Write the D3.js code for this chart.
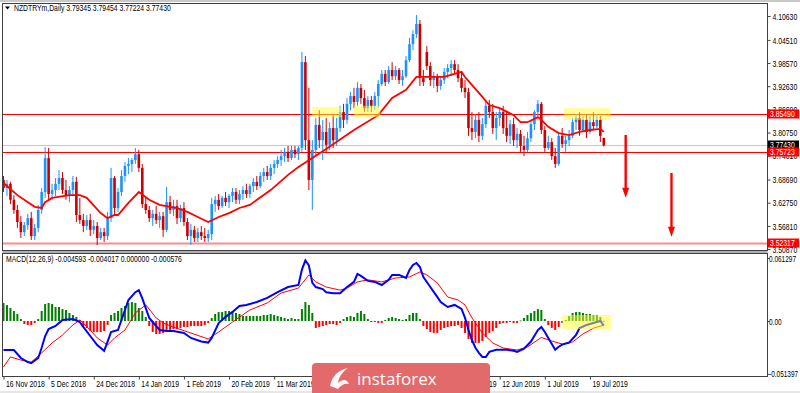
<!DOCTYPE html>
<html>
<head>
<meta charset="utf-8">
<script src="https://cdn.jsdelivr.net/npm/d3@7"></script>
<style>
  body { margin: 0; background: #fff; }
  svg { display: block; font-family: "Liberation Sans", Arial, sans-serif; }
</style>
</head>
<body>
<div id="chart"></div>
<script>
// ---- data (NZDTRYm, Daily) ----
const opens = [
  3.686,3.665,3.676,3.635,3.609,3.578,3.552,3.570,3.588,3.542,
  3.563,3.609,3.655,3.742,3.650,3.660,3.676,3.691,3.660,3.645,
  3.660,3.681,3.596,3.583,3.568,3.583,3.558,3.568,3.537,3.552,
  3.542,3.588,3.691,3.614,3.655,3.696,3.722,3.727,3.737,3.752,
  3.717,3.624,3.609,3.588,3.599,3.583,3.593,3.558,3.629,3.609,
  3.619,3.588,3.614,3.578,3.542,3.558,3.537,3.552,3.542,3.537,
  3.547,3.624,3.635,3.619,3.640,3.629,3.645,3.655,3.635,3.650,
  3.660,3.650,3.670,3.681,3.670,3.696,3.706,3.696,3.717,3.727,
  3.737,3.747,3.758,3.742,3.763,3.752,3.768,3.988,3.788,3.686,
  3.763,3.827,3.788,3.809,3.776,3.819,3.788,3.819,3.860,3.840,
  3.881,3.901,3.886,3.922,3.896,3.870,3.891,3.876,3.901,3.932,
  3.958,3.937,3.968,3.952,3.968,3.942,3.952,3.993,4.034,4.060,
  4.086,3.947,4.014,3.978,3.942,3.952,3.927,3.942,3.963,3.973,
  3.983,3.968,3.947,3.922,3.911,3.819,3.809,3.840,3.799,3.829,
  3.876,3.860,3.819,3.845,3.860,3.819,3.799,3.829,3.788,3.804,
  3.773,3.763,3.793,3.829,3.860,3.881,3.814,3.768,3.783,3.747,
  3.727,3.799,3.778,3.788,3.799,3.834,3.845,3.814,3.840,3.809,
  3.834,3.824,3.840,3.79345];
const highs = [
  3.696,3.686,3.681,3.647,3.622,3.593,3.578,3.599,3.604,3.573,
  3.622,3.665,3.770,3.768,3.676,3.691,3.711,3.706,3.686,3.670,
  3.696,3.694,3.640,3.599,3.596,3.599,3.583,3.578,3.563,3.563,
  3.604,3.717,3.696,3.665,3.711,3.732,3.742,3.742,3.768,3.763,
  3.727,3.640,3.619,3.609,3.619,3.604,3.604,3.668,3.645,3.635,
  3.635,3.622,3.629,3.588,3.573,3.568,3.563,3.568,3.563,3.558,
  3.640,3.645,3.650,3.645,3.655,3.650,3.665,3.665,3.660,3.670,
  3.676,3.676,3.691,3.696,3.706,3.717,3.722,3.727,3.737,3.747,
  3.763,3.768,3.773,3.773,3.773,3.773,4.014,4.004,3.922,3.788,
  3.845,3.865,3.840,3.845,3.834,3.852,3.845,3.876,3.881,3.896,
  3.911,3.922,3.937,3.932,3.917,3.901,3.901,3.911,3.942,3.968,
  3.968,3.978,3.988,3.978,3.973,3.968,4.004,4.050,4.070,4.109,
  4.096,3.968,4.029,3.988,3.963,3.958,3.952,3.973,3.983,3.993,
  3.993,3.983,3.963,3.942,3.922,3.860,3.855,3.860,3.845,3.886,
  3.891,3.881,3.860,3.870,3.876,3.860,3.840,3.845,3.819,3.814,
  3.799,3.809,3.840,3.865,3.891,3.886,3.824,3.799,3.793,3.768,
  3.809,3.819,3.799,3.814,3.845,3.855,3.860,3.850,3.855,3.850,
  3.860,3.855,3.850,3.79454];
const lows = [
  3.655,3.645,3.624,3.599,3.563,3.537,3.542,3.558,3.532,3.532,
  3.552,3.599,3.640,3.635,3.635,3.645,3.660,3.650,3.635,3.629,
  3.645,3.578,3.573,3.552,3.558,3.542,3.547,3.519,3.532,3.527,
  3.532,3.578,3.599,3.604,3.645,3.681,3.701,3.706,3.727,3.706,
  3.614,3.599,3.578,3.568,3.573,3.563,3.540,3.552,3.599,3.593,
  3.573,3.578,3.568,3.532,3.519,3.527,3.527,3.532,3.527,3.527,
  3.532,3.604,3.609,3.614,3.619,3.614,3.629,3.624,3.624,3.635,
  3.640,3.640,3.655,3.660,3.665,3.681,3.686,3.686,3.701,3.717,
  3.722,3.732,3.732,3.737,3.742,3.737,3.758,3.763,3.660,3.609,
  3.747,3.768,3.737,3.758,3.763,3.768,3.773,3.809,3.819,3.829,
  3.865,3.870,3.876,3.881,3.860,3.860,3.860,3.865,3.870,3.927,
  3.927,3.932,3.942,3.942,3.932,3.927,3.947,3.988,4.019,4.050,
  3.927,3.927,3.968,3.927,3.922,3.911,3.917,3.932,3.947,3.952,
  3.958,3.937,3.911,3.896,3.799,3.788,3.793,3.783,3.788,3.819,
  3.845,3.804,3.788,3.824,3.804,3.783,3.778,3.773,3.768,3.758,
  3.747,3.758,3.783,3.814,3.850,3.804,3.758,3.763,3.737,3.717,
  3.722,3.768,3.758,3.773,3.793,3.814,3.799,3.809,3.793,3.804,
  3.814,3.819,3.783,3.77224];
const closes = [
  3.665,3.676,3.635,3.609,3.578,3.552,3.570,3.588,3.542,3.563,
  3.609,3.655,3.742,3.650,3.660,3.676,3.691,3.660,3.645,3.660,
  3.681,3.596,3.583,3.568,3.583,3.558,3.568,3.537,3.552,3.542,
  3.588,3.691,3.614,3.655,3.696,3.722,3.727,3.737,3.752,3.717,
  3.624,3.609,3.588,3.599,3.583,3.593,3.558,3.629,3.609,3.619,
  3.588,3.614,3.578,3.542,3.558,3.537,3.552,3.542,3.537,3.547,
  3.624,3.635,3.619,3.640,3.629,3.645,3.655,3.635,3.650,3.660,
  3.650,3.670,3.681,3.670,3.696,3.706,3.696,3.717,3.727,3.737,
  3.747,3.758,3.742,3.763,3.752,3.768,3.988,3.788,3.686,3.763,
  3.827,3.788,3.809,3.776,3.819,3.788,3.819,3.860,3.840,3.881,
  3.901,3.886,3.922,3.896,3.870,3.891,3.876,3.901,3.932,3.958,
  3.937,3.968,3.952,3.968,3.942,3.952,3.993,4.034,4.060,4.086,
  3.947,3.937,3.978,3.942,3.952,3.927,3.942,3.963,3.973,3.983,
  3.968,3.947,3.922,3.911,3.819,3.809,3.840,3.799,3.829,3.876,
  3.860,3.819,3.845,3.860,3.819,3.799,3.829,3.788,3.804,3.773,
  3.763,3.793,3.829,3.860,3.881,3.814,3.768,3.783,3.747,3.727,
  3.799,3.778,3.788,3.799,3.834,3.845,3.814,3.840,3.809,3.834,
  3.824,3.840,3.799,3.77430];

// moving average on the price panel: [bar, price]
const maPts = [
  [0,3.678],[4,3.647],[9,3.617],[11,3.614],[12,3.629],[14,3.640],[19,3.647],[22,3.647],
  [24,3.640],[28,3.601],[30,3.588],[32,3.596],[33,3.596],[36,3.627],[39,3.655],[42,3.635],
  [45,3.622],[48,3.617],[50,3.614],[53,3.604],[56,3.591],[59,3.578],[62,3.591],[65,3.601],
  [68,3.614],[71,3.622],[77,3.660],[82,3.699],[85,3.719],[93,3.765],[101,3.814],[108,3.852],
  [112,3.896],[116,3.917],[119,3.950],[127,3.950],[132,3.963],[133,3.950],[137,3.909],
  [140,3.878],[143,3.870],[147,3.852],[149,3.834],[151,3.834],[154,3.847],[155,3.840],
  [157,3.822],[160,3.806],[163,3.801],[166,3.809],[169,3.814],[172,3.817],[173,3.809]];

// MACD(12,26,9): histogram per bar, main and signal lines as [bar, value]
const macdHist = [
  0.0175,0.0155,0.0126,0.0097,0.0068,0.0019,-0.0029,-0.0039,-0.0039,-0.0019,
  0.0019,0.0097,0.0165,0.0175,0.0165,0.0136,0.0136,0.0116,0.0107,0.0078,
  0.0058,0.0039,0.0010,-0.0049,-0.0068,-0.0097,-0.0107,-0.0107,-0.0107,-0.0097,
  -0.0039,0.0058,0.0078,0.0097,0.0126,0.0146,0.0175,0.0184,0.0175,0.0126,
  0.0097,0.0039,-0.0049,-0.0107,-0.0126,-0.0126,-0.0116,-0.0097,-0.0087,-0.0078,
  -0.0078,-0.0068,-0.0058,-0.0058,-0.0049,-0.0049,-0.0049,-0.0049,-0.0039,-0.0019,
  0.0029,0.0068,0.0087,0.0087,0.0097,0.0097,0.0087,0.0078,0.0068,0.0049,
  0.0049,0.0049,0.0049,0.0049,0.0049,0.0058,0.0058,0.0068,0.0058,0.0049,
  0.0039,0.0029,0.0019,0.0029,0.0019,0.0019,0.0116,0.0184,0.0155,0.0078,
  -0.0068,-0.0058,-0.0049,-0.0039,-0.0029,-0.0029,-0.0039,-0.0019,0.0019,0.0039,
  0.0049,0.0039,0.0078,0.0097,0.0068,0.0019,-0.0010,-0.0010,-0.0019,-0.0019,
  0.0010,0.0029,0.0039,0.0029,0.0019,0.0010,0.0019,0.0058,0.0078,0.0078,
  0.0019,-0.0049,-0.0078,-0.0107,-0.0116,-0.0116,-0.0087,-0.0068,-0.0058,-0.0049,
  -0.0049,-0.0039,-0.0068,-0.0116,-0.0175,-0.0213,-0.0213,-0.0213,-0.0194,-0.0155,
  -0.0116,-0.0097,-0.0068,-0.0029,-0.0019,-0.0019,-0.0010,-0.0019,-0.0019,0.0005,
  0.0029,0.0058,0.0078,0.0097,0.0116,0.0107,0.0019,-0.0039,-0.0068,-0.0087,
  -0.0058,-0.0019,0.0010,0.0049,0.0078,0.0087,0.0087,0.0078,0.0068,0.0068,
  0.0058,0.0058,0.0039,-0.000576];
const macdMain = [
  [0,-0.0282],[3,-0.0282],[5,-0.036],[7,-0.040],[8,-0.041],[10,-0.036],[11,-0.026],[12,-0.0146],
  [13,-0.0078],[15,-0.0049],[17,0.001],[20,0.0019],[22,-0.001],[23,-0.0058],[25,-0.0146],
  [27,-0.0234],[29,-0.029],[30,-0.020],[31,-0.0107],[33,-0.0088],[34,0.001],[36,0.0204],
  [38,0.028],[39,0.030],[40,0.022],[42,0.003],[43,-0.001],[45,-0.0088],[47,-0.0097],
  [49,-0.0097],[52,-0.0117],[54,-0.0165],[57,-0.020],[59,-0.021],[60,-0.0165],[62,-0.002],
  [64,0.004],[66,0.0088],[68,0.0146],[70,0.0156],[73,0.0185],[76,0.0224],[79,0.028],
  [82,0.033],[85,0.035],[86,0.050],[87,0.059],[88,0.054],[89,0.037],[90,0.033],[92,0.031],
  [93,0.028],[95,0.027],[97,0.027],[99,0.033],[101,0.038],[102,0.0457],[103,0.0438],
  [105,0.039],[107,0.038],[109,0.035],[111,0.040],[112,0.0448],[114,0.0448],[116,0.0418],
  [117,0.0496],[118,0.0545],[119,0.0564],[120,0.0525],[121,0.0428],[123,0.033],[125,0.0234],
  [126,0.0185],[128,0.0136],[130,0.0156],[132,0.0117],[133,0.003],[134,-0.0088],[135,-0.0185],
  [136,-0.026],[137,-0.031],[138,-0.035],[139,-0.035],[140,-0.030],[142,-0.028],[145,-0.028],
  [147,-0.029],[148,-0.030],[150,-0.027],[152,-0.020],[154,-0.0088],[155,-0.0058],[156,-0.0107],
  [157,-0.0165],[159,-0.028],[160,-0.025],[161,-0.023],[163,-0.021],[165,-0.0136],[166,-0.0068],
  [168,-0.0039],[170,-0.0019],[172,0.000],[173,-0.004593]];
const macdSignal = [
  [0,-0.0447],[2,-0.035],[5,-0.038],[8,-0.040],[11,-0.031],[14,-0.0214],[17,-0.0136],[20,-0.0039],
  [22,0.001],[25,-0.0088],[27,-0.0165],[30,-0.0234],[32,-0.0165],[35,-0.0088],[38,0.0078],
  [41,0.0156],[44,0.003],[46,-0.002],[49,-0.006],[54,-0.0117],[59,-0.0175],[62,-0.0107],
  [66,-0.001],[71,0.0107],[76,0.0175],[80,0.0272],[85,0.032],[88,0.0447],[90,0.038],[93,0.033],
  [97,0.030],[99,0.032],[102,0.038],[105,0.040],[109,0.038],[113,0.0418],[117,0.0428],
  [120,0.0477],[122,0.0448],[125,0.037],[128,0.0233],[131,0.0204],[133,0.0156],[135,0.003],
  [138,-0.0117],[141,-0.0214],[144,-0.0263],[148,-0.0282],[151,-0.0253],[155,-0.016],
  [158,-0.0195],[161,-0.0224],[164,-0.0204],[167,-0.0126],[170,-0.007],[173,-0.004017]];

// axes
const priceTicks = [4.10630,4.04510,3.98570,3.92630,3.86690,3.80750,3.74810,3.68690,3.62750,3.56810,3.50870];
const macdTicks = [0.061297, 0, -0.051397];
const macdTickLabels = ["0.061297", "0.00", "-0.051397"];
const timeTickIdx = [0,13,26,39,52,65,78,91,104,117,130,143,156,169];
// labels under the watermark are not readable in the picture; left blank
const timeLabels = ["16 Nov 2018","5 Dec 2018","24 Dec 2018","14 Jan 2019","1 Feb 2019","20 Feb 2019",
  "11 Mar 2019","","","","24 May 2019","12 Jun 2019","1 Jul 2019","19 Jul 2019"];

// drawn levels and markup
const redLevels = [3.85490, 3.75723];
const supportLevel = 3.52317;
const lastPrice = 3.77430;
const zones = [[89, 97.5, 3.847, 3.873], [101, 108.6, 3.847, 3.876], [161.5, 175, 3.840, 3.870]];
const macdZone = [161, 175.2, -0.0078, 0.0058];
const arrows = [[179.3, 3.801, 3.640], [192.5, 3.704, 3.540]];

// ---- layout ----
const W = 800, H = 393;
const plotL = 2.5, plotR = 767.5;
const mainTop = 3.5, mainBot = 250.5, macdTop = 253.5, macdBot = 376.5;
const upColor = "#1e90ff", downColor = "#cc0000";
const sx = 0.76; // horizontal squeeze of the terminal font

const svg = d3.select("#chart").append("svg")
  .attr("width", W).attr("height", H);

svg.append("rect").attr("width", W).attr("height", H).attr("fill", "#fff");
svg.append("rect").attr("width", W).attr("height", 2).attr("fill", "#c8c8c8");
svg.append("rect").attr("y", 391).attr("width", W).attr("height", 2).attr("fill", "#e6e6e6");

const x = d3.scaleLinear().domain([0, 173]).range([3.5, 3.5 + 173 * 3.47]);
const y = d3.scaleLinear().domain([3.5063, 4.1371]).range([250, 4]);
const ym = d3.scaleLinear().domain([-0.0535, 0.0661]).range([376, 253]);

function label(g, tx, ty, str, opts = {}) {
  return g.append("text")
    .attr("transform", `translate(${tx},${ty}) scale(${opts.sx || sx},1)`)
    .attr("font-size", opts.size || 9)
    .attr("fill", opts.fill || "#000")
    .text(str);
}

// clip regions
const defs = svg.append("defs");
defs.append("clipPath").attr("id", "clipMain").append("rect")
  .attr("x", plotL).attr("y", mainTop).attr("width", plotR - plotL).attr("height", mainBot - mainTop);
defs.append("clipPath").attr("id", "clipMacd").append("rect")
  .attr("x", plotL).attr("y", macdTop).attr("width", plotR - plotL).attr("height", macdBot - macdTop);

// ---- price panel ----
const main = svg.append("g").attr("clip-path", "url(#clipMain)");

main.append("line")
  .attr("x1", plotL).attr("x2", plotR)
  .attr("y1", Math.round(y(lastPrice)) + 0.5).attr("y2", Math.round(y(lastPrice)) + 0.5)
  .attr("stroke", "#c8c8c8").attr("stroke-width", 1);

main.selectAll("line.level").data(redLevels).join("line")
  .attr("class", "level")
  .attr("x1", plotL).attr("x2", plotR)
  .attr("y1", d => Math.round(y(d)) + 0.5).attr("y2", d => Math.round(y(d)) + 0.5)
  .attr("stroke", "#ff0000").attr("stroke-width", 1);

main.append("line")
  .attr("x1", plotL).attr("x2", plotR)
  .attr("y1", y(supportLevel)).attr("y2", y(supportLevel))
  .attr("stroke", "#ff8a8a").attr("stroke-width", 2);

const candles = d3.range(opens.length).map(i => ({ i, o: opens[i], h: highs[i], l: lows[i], c: closes[i] }));
const col = d => d.c >= d.o ? upColor : downColor;

main.append("g").selectAll("line").data(candles).join("line")
  .attr("x1", d => x(d.i)).attr("x2", d => x(d.i))
  .attr("y1", d => y(d.h)).attr("y2", d => y(d.l))
  .attr("stroke", col).attr("stroke-width", 1);

main.append("g").selectAll("rect").data(candles).join("rect")
  .attr("x", d => x(d.i) - 1.3).attr("width", 2.6)
  .attr("y", d => y(Math.max(d.o, d.c)))
  .attr("height", d => Math.max(1, Math.abs(y(d.o) - y(d.c))))
  .attr("fill", col);

main.append("path")
  .datum(maPts)
  .attr("fill", "none").attr("stroke", "#ff0000").attr("stroke-width", 1.8)
  .attr("d", d3.line().x(d => x(d[0])).y(d => y(d[1])));

main.selectAll("rect.zone").data(zones).join("rect")
  .attr("class", "zone")
  .attr("x", d => x(d[0])).attr("width", d => x(d[1]) - x(d[0]))
  .attr("y", d => y(d[3])).attr("height", d => y(d[2]) - y(d[3]))
  .attr("fill", "#ffff33").attr("opacity", 0.5);

// red arrows
const arr = main.append("g").selectAll("g").data(arrows).join("g");
arr.append("line")
  .attr("x1", d => x(d[0])).attr("x2", d => x(d[0]))
  .attr("y1", d => y(d[1])).attr("y2", d => y(d[2]) - 8)
  .attr("stroke", "#ff0000").attr("stroke-width", 2.4);
arr.append("path")
  .attr("d", d => {
    const ax = x(d[0]), ay = y(d[2]);
    return `M${ax - 3.5},${ay - 10}L${ax + 3.5},${ay - 10}L${ax},${ay}Z`;
  })
  .attr("fill", "#ff0000");

// ---- MACD panel ----
const macd = svg.append("g").attr("clip-path", "url(#clipMacd)");

macd.append("g").selectAll("rect").data(macdHist).join("rect")
  .attr("x", (d, i) => x(i) - 1).attr("width", 2)
  .attr("y", d => d >= 0 ? ym(d) : ym(0))
  .attr("height", d => Math.max(0.8, Math.abs(ym(d) - ym(0))))
  .attr("fill", d => d >= 0 ? "#008000" : "#ff0000");

macd.append("path").datum(macdSignal)
  .attr("fill", "none").attr("stroke", "#ff0000").attr("stroke-width", 1)
  .attr("d", d3.line().x(d => x(d[0])).y(d => ym(d[1])));

macd.append("path").datum(macdMain)
  .attr("fill", "none").attr("stroke", "#0000ff").attr("stroke-width", 2)
  .attr("d", d3.line().x(d => x(d[0])).y(d => ym(d[1])));

macd.append("rect")
  .attr("x", x(macdZone[0])).attr("width", x(macdZone[1]) - x(macdZone[0]))
  .attr("y", ym(macdZone[3])).attr("height", ym(macdZone[2]) - ym(macdZone[3]))
  .attr("fill", "#ffff33").attr("opacity", 0.5);

// ---- frames ----
svg.append("rect").attr("x", plotL).attr("y", mainTop)
  .attr("width", plotR - plotL).attr("height", mainBot - mainTop)
  .attr("fill", "none").attr("stroke", "#404040");
svg.append("rect").attr("x", plotL).attr("y", mainBot + 0.5).attr("width", plotR - plotL).attr("height", 2.5)
  .attr("fill", "#b0b0b0");
svg.append("rect").attr("x", plotL).attr("y", macdTop)
  .attr("width", plotR - plotL).attr("height", macdBot - macdTop)
  .attr("fill", "none").attr("stroke", "#404040");

// ---- price axis ----
const pAx = svg.append("g").attr("transform", `translate(${plotR},0)`)
  .call(d3.axisRight(y).tickValues(priceTicks).tickSize(3).tickFormat(d3.format(".5f")));
pAx.select(".domain").remove();
pAx.selectAll("line").attr("stroke", "#404040");
pAx.selectAll("text")
  .attr("x", 0).attr("dy", "0.35em")
  .attr("transform", `translate(5,0) scale(${sx},1)`)
  .attr("font-size", 9).attr("font-family", "Liberation Sans, Arial, sans-serif").attr("fill", "#000");

// price tags at the right edge
const tags = [
  { v: lastPrice, fill: "#000" },
  ...redLevels.map(v => ({ v, fill: "#ff0000" })),
  { v: supportLevel, fill: "#ff0000" }];
tags.forEach(t => {
  const ty = Math.round(y(t.v));
  svg.append("rect").attr("x", 768).attr("y", ty - 4.5).attr("width", 31).attr("height", 9).attr("fill", t.fill);
  label(svg, 770, ty + 3.3, t.v.toFixed(5), { fill: "#fff" });
});

// ---- MACD axis ----
const mAx = svg.append("g").attr("transform", `translate(${plotR},0)`)
  .call(d3.axisRight(ym).tickValues(macdTicks).tickSize(2).tickFormat((d, i) => macdTickLabels[i]));
mAx.select(".domain").remove();
mAx.selectAll("line").attr("stroke", "#404040");
mAx.selectAll("text")
  .attr("x", 0).attr("dy", "0.35em")
  .attr("transform", `translate(1.5,0) scale(0.72,1)`)
  .attr("font-size", 9).attr("font-family", "Liberation Sans, Arial, sans-serif").attr("fill", "#000");

// ---- time axis ----
const tAx = svg.append("g").attr("transform", `translate(0,${macdBot})`)
  .call(d3.axisBottom(x).tickValues(timeTickIdx).tickSize(3).tickFormat((d, i) => timeLabels[i]));
tAx.select(".domain").remove();
tAx.selectAll("line").attr("stroke", "#404040");
tAx.selectAll("text")
  .attr("y", 0).attr("dy", 0).attr("text-anchor", "start")
  .attr("transform", `translate(2,10.5) scale(${sx},1)`)
  .attr("font-size", 9).attr("font-family", "Liberation Sans, Arial, sans-serif").attr("fill", "#000");

// ---- captions ----
svg.append("path").attr("d", "M5,6.5L10,6.5L7.5,9.5Z").attr("fill", "#000");
label(svg, 14, 11, "NZDTRYm,Daily  3.79345 3.79454 3.77224 3.77430");
label(svg, 6, 262, "MACD(12,26,9) -0.004593 -0.004017 0.000000 -0.000576");

// ---- watermark ----
const wm = svg.append("g");
wm.append("rect").attr("x", 312).attr("y", 363).attr("width", 178).attr("height", 34).attr("rx", 4)
  .attr("fill", "#e36a6a");
wm.append("path")
  .attr("d", "M330,386 C332,376 338,370 348,368 C342,372 339,377 338,383 C344,378 347,380 349,384 C345,383 341,385 338,389 Z")
  .attr("fill", "#fff").attr("opacity", 0.95);
wm.append("text").attr("x", 357).attr("y", 385)
  .attr("font-family", "Open Sans, Roboto, sans-serif").attr("font-size", 17)
  .attr("fill", "#fff").text("instaforex");
</script>
</body>
</html>
